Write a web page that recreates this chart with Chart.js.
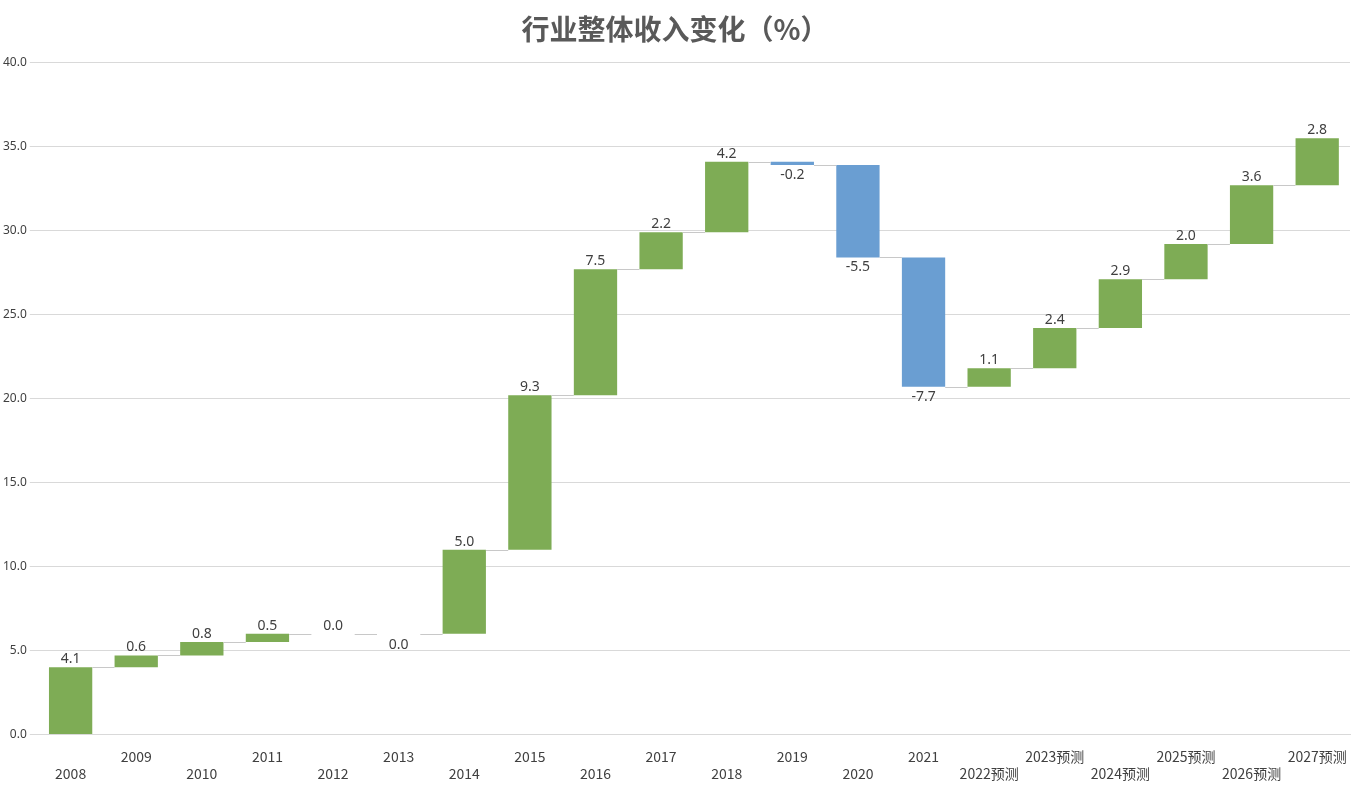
<!DOCTYPE html>
<html>
<head>
<meta charset="utf-8">
<script src="https://cdn.jsdelivr.net/npm/chart.js@4"></script>
<style>
  body { margin: 0; background: #fff; }
  #wrap { width: 1360px; height: 788px; }
</style>
</head>
<body>
<div id="wrap"><canvas id="chart"></canvas></div>
<script>
const years = ['2008', '2009', '2010', '2011', '2012', '2013', '2014', '2015', '2016', '2017',
  '2018', '2019', '2020', '2021', '2022预测', '2023预测', '2024预测', '2025预测', '2026预测', '2027预测'];
const changes = [4.1, 0.6, 0.8, 0.5, 0.0, 0.0, 5.0, 9.3, 7.5, 2.2, 4.2, -0.2, -5.5, -7.7, 1.1, 2.4, 2.9, 2.0, 3.6, 2.8];
const barStart = [0, 4.0, 4.7, 5.5, 6.0, 6.0, 6.0, 11.0, 20.2, 27.7, 29.9, 34.1, 33.9, 28.4, 20.7, 21.8, 24.2, 27.1, 29.2, 32.7];
const barEnd = [4.0, 4.7, 5.5, 6.0, 6.0, 6.0, 11.0, 20.2, 27.7, 29.9, 34.1, 33.9, 28.4, 20.7, 21.8, 24.2, 27.1, 29.2, 32.7, 35.5];
const labelBelow = [false, false, false, false, false, true, false, false, false, false,
  false, true, true, true, false, false, false, false, false, false];

const green = '#7eac55';
const blue = '#6a9ed2';

// two-row staggered x labels
const xLabels = years.map((y, i) => i % 2 === 0 ? ['', y] : [y, '']);

const waterfallExtras = {
  id: 'waterfallExtras',
  afterDatasetsDraw(chart) {
    const ctx = chart.ctx;
    const meta = chart.getDatasetMeta(0);
    const y = chart.scales.y;
    ctx.save();
    // connectors
    ctx.strokeStyle = '#c8c8c8';
    ctx.lineWidth = 1;
    for (let i = 0; i < meta.data.length - 1; i++) {
      const a = meta.data[i], b = meta.data[i + 1];
      const yy = Math.round(y.getPixelForValue(barEnd[i])) + 0.5;
      ctx.beginPath();
      ctx.moveTo(a.x + a.width / 2, yy);
      ctx.lineTo(b.x - b.width / 2, yy);
      ctx.stroke();
    }
    // value labels
    ctx.fillStyle = '#404040';
    ctx.font = '14px "Noto Sans", sans-serif';
    ctx.textAlign = 'center';
    meta.data.forEach((bar, i) => {
      const top = y.getPixelForValue(Math.max(barStart[i], barEnd[i]));
      const bottom = y.getPixelForValue(Math.min(barStart[i], barEnd[i]));
      if (labelBelow[i]) {
        ctx.textBaseline = 'top';
        ctx.fillText(changes[i].toFixed(1), bar.x, bottom + (i === 5 ? 4 : 3));
      } else {
        ctx.textBaseline = 'bottom';
        ctx.fillText(changes[i].toFixed(1), bar.x, top - 1);
      }
    });
    ctx.restore();
  }
};

new Chart(document.getElementById('chart'), {
  type: 'bar',
  data: {
    labels: xLabels,
    datasets: [{
      data: barStart.map((s, i) => [s, barEnd[i]]),
      backgroundColor: changes.map(v => v < 0 ? blue : green),
      borderSkipped: false,
      barPercentage: 0.66,
      categoryPercentage: 1
    }]
  },
  options: {
    responsive: true,
    maintainAspectRatio: false,
    animation: false,
    layout: { padding: { left: 0, right: 10, top: 5, bottom: 0 } },
    plugins: {
      legend: { display: false },
      tooltip: { enabled: false },
      title: {
        display: true,
        text: '行业整体收入变化（%）',
        color: '#595959',
        font: { size: 28, weight: 'bold', family: '"Noto Sans CJK SC", sans-serif' },
        padding: { top: 8, bottom: 16 }
      }
    },
    scales: {
      x: {
        grid: { display: false },
        border: { color: '#d9d9d9' },
        ticks: {
          color: '#404040',
          font: { size: 14, family: '"Noto Sans CJK SC", sans-serif' },
          maxRotation: 0,
          autoSkip: false,
          padding: 6
        }
      },
      y: {
        min: 0,
        max: 40,
        ticks: {
          stepSize: 5,
          color: '#404040',
          font: { size: 12, family: '"Noto Sans", sans-serif' },
          callback: v => v.toFixed(1)
        },
        grid: { color: '#d9d9d9' },
        border: { display: false }
      }
    }
  },
  plugins: [waterfallExtras]
});
</script>
</body>
</html>
